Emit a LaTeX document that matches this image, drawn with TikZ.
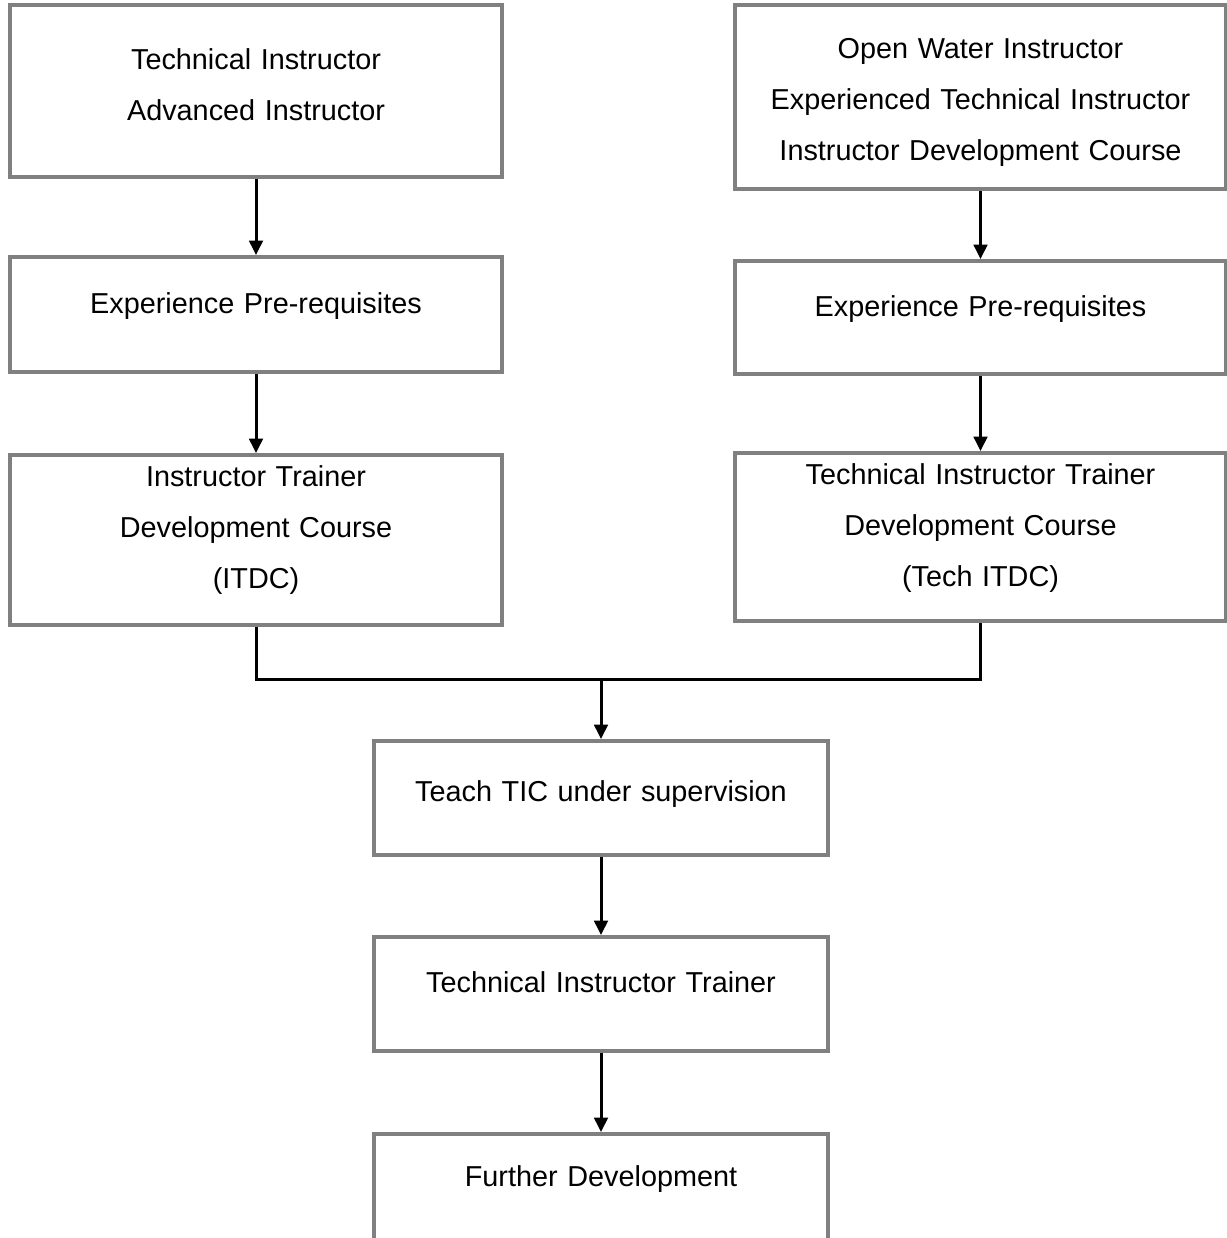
\documentclass[tikz,border=0pt]{standalone}
\usepackage{fontspec}
\setmainfont{Liberation Sans}
\usetikzlibrary{arrows.meta,positioning}
\definecolor{frame}{RGB}{128,128,128}
\tikzset{
  flow/.style={-{Triangle[length=3.6mm,width=3.4mm]},line width=0.075cm,draw=black},
  link/.style={line width=0.075cm,draw=black},
  lift/.style={execute at end node={\par\vspace*{#1}}},
  lift/.default=0.4cm,
  box/.style={draw=frame,line width=0.1cm,fill=white,align=center,
              text width=11.6cm,minimum width=12.3cm,
              font=\fontsize{20.5}{36.3}\selectfont},
  midbox/.style={box,text width=10.8cm,minimum width=11.35cm}
}
\begin{document}
\begin{tikzpicture}
  \useasboundingbox (0,0) rectangle (30.65,-30.95);
  % left column
  \node[box,minimum height=4.3cm,lift=0.3cm] (tech) at (6.4,-2.275)
    {Technical Instructor\\Advanced Instructor};
  \node[box,minimum height=2.875cm,lift,below=1.9cm of tech] (lpre)
    {Experience Pre-requisites};
  \node[box,minimum height=4.25cm,lift=0.475cm,below=1.975cm of lpre] (itdc)
    {Instructor Trainer\\Development Course\\(ITDC)};
  % right column
  \node[box,minimum height=4.6cm,minimum width=12.275cm,lift=-0.25cm] (owi) at (24.5125,-2.425)
    {Open Water Instructor\\Experienced Technical Instructor\\Instructor Development Course};
  \node[box,minimum height=2.825cm,minimum width=12.275cm,lift,below=1.7cm of owi] (rpre)
    {Experience Pre-requisites};
  \node[box,minimum height=4.2cm,minimum width=12.275cm,lift=0.45cm,below=1.875cm of rpre] (titdc)
    {Technical Instructor Trainer\\Development Course\\(Tech ITDC)};
  % common path
  \node[midbox,minimum height=2.85cm,lift=0.2cm] (teach) at (15.025,-19.95)
    {Teach TIC under supervision};
  \node[midbox,minimum height=2.85cm,lift=0.6cm,below=1.95cm of teach] (trainer)
    {Technical Instructor Trainer};
  \node[midbox,minimum height=3.25cm,lift=1cm,below=1.975cm of trainer] (further)
    {Further Development};

  \draw[flow] (tech) -- (lpre);
  \draw[flow] (lpre) -- (itdc);
  \draw[flow] (owi) -- (rpre);
  \draw[flow] (rpre) -- (titdc);
  \coordinate (join) at (15.025,-16.975);
  \draw[link] (itdc.south) |- (join) -| (titdc.south);
  \draw[flow] (join) -- (teach);
  \draw[flow] (teach) -- (trainer);
  \draw[flow] (trainer) -- (further);
\end{tikzpicture}
\end{document}
